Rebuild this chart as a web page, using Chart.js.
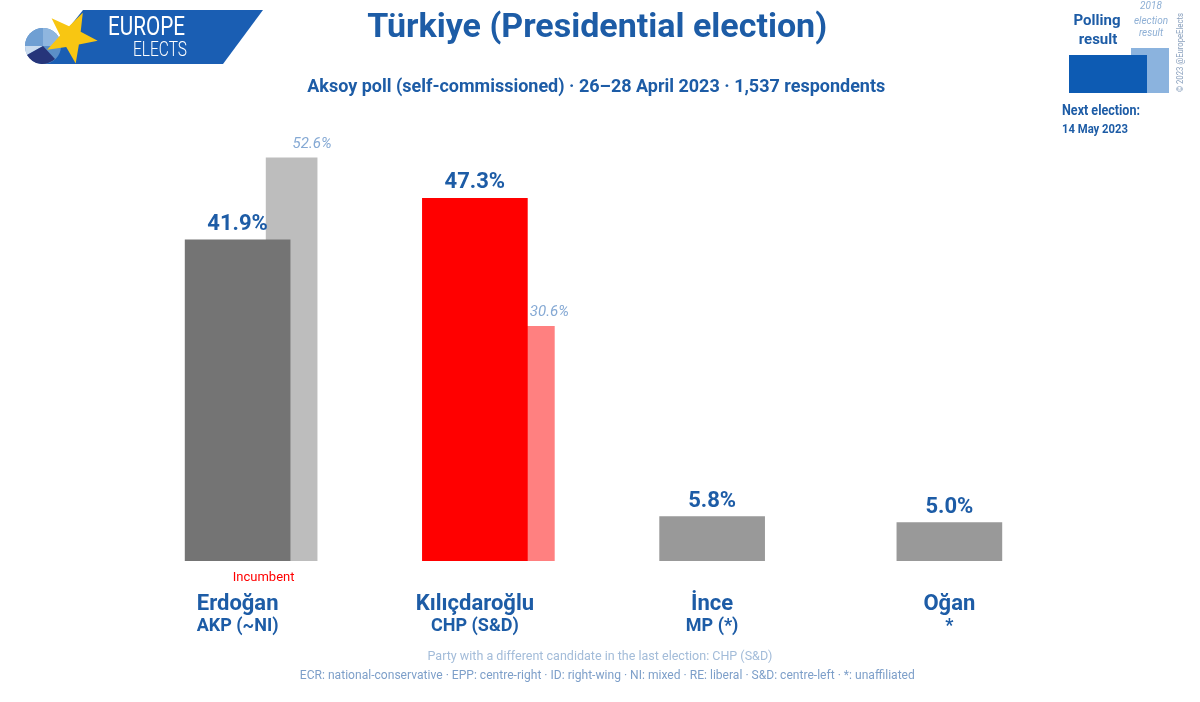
<!DOCTYPE html>
<html><head><meta charset="utf-8">
<script src="https://cdn.jsdelivr.net/npm/chart.js@4"></script>
<style>
html,body{margin:0;padding:0;background:#fff;}
body{width:1200px;height:702px;overflow:hidden;position:relative;font-family:Roboto,"Open Sans",sans-serif;}
#c{position:absolute;left:0;top:0;}
.box{position:absolute;}
</style></head>
<body>
<canvas id="c" width="1200" height="702"></canvas>
<svg id="logo" style="position:absolute;left:0;top:0" width="280" height="75">
  <polygon points="83,10 263,10 223,64 40,64" fill="#1a5eb3"/>
  <circle cx="43" cy="46" r="18" fill="#5b8fc7"/>
  <path d="M43,46 L25,46 A18,18 0 0,1 43,28 Z" fill="#6f9fd3"/>
  <path d="M43,46 L27,55 A18,18 0 0,1 25,46 Z" fill="#c9dbef"/>
  <path d="M43,46 L55,59 A18,18 0 0,1 27,55 Z" fill="#26357a"/>
  <path d="M43,46 L43,28 A18,18 0 0,1 61,46 Z" fill="#8fb6df"/>
  <polygon id="star" fill="#f8c612"/>
</svg>
<div class="box" style="left:1131px;top:48px;width:38px;height:45px;background:#8bb3de"></div>
<div class="box" style="left:1069px;top:55px;width:78px;height:38px;background:#0d5bb3"></div>
<script>
// ---------- data ----------
const candidates = ['Erdoğan', 'Kılıçdaroğlu', 'İnce', 'Oğan'];
const parties = ['AKP (~NI)', 'CHP (S&D)', 'MP (*)', '*'];
const pollValues = [41.9, 47.3, 5.8, 5.0];
const prevValues = [52.6, 30.6, null, null];
const notes = ['Incumbent', '', '', ''];
const pollColors = ['#747474', '#ff0000', '#999999', '#999999'];
const prevColors = ['#bdbdbd', '#ff8080', '#cccccc', '#cccccc'];

const BLUE = '#1d5ca6';

// ---------- star for logo ----------
(function(){
  const cx = 71, cy = 37, R = 27, r = 11, rot = -64 * Math.PI / 180;
  const pts = [];
  for (let k = 0; k < 10; k++) {
    const a = rot + k * Math.PI / 5;
    const rr = k % 2 === 0 ? R : r;
    pts.push((cx + rr * Math.cos(a)).toFixed(1) + ',' + (cy + rr * Math.sin(a)).toFixed(1));
  }
  document.getElementById('star').setAttribute('points', pts.join(' '));
})();

// ---------- html text helper ----------
function addText(txt, o) {
  const d = document.createElement('div');
  d.textContent = txt;
  const size = o.size;
  d.style.cssText = 'position:absolute;white-space:nowrap;font-family:Roboto,sans-serif;' +
    'font-size:' + size + 'px;font-weight:' + (o.weight || 400) + ';line-height:' + (1.172 * size) + 'px;' +
    'color:' + (o.color || BLUE) + ';font-style:' + (o.italic ? 'italic' : 'normal') + ';';
  document.body.appendChild(d);
  const w = d.getBoundingClientRect().width;
  const align = o.align || 'left';
  const left = align === 'center' ? o.x - w / 2 : align === 'right' ? o.x - w : o.x;
  d.style.left = left + 'px';
  d.style.top = (o.base - 0.928 * size) + 'px';
  if (o.width) {
    const sx = o.width / w;
    d.style.transformOrigin = align === 'center' ? '50% 0' : align === 'right' ? '100% 0' : '0 0';
    d.style.transform = 'scaleX(' + sx + ')';
  }
  return d;
}

addText('Türkiye (Presidential election)', {x: 597, base: 38, size: 33, weight: 700, align: 'center', width: 460});
addText('Aksoy poll (self-commissioned) · 26–28 April 2023 · 1,537 respondents', {x: 596, base: 92, size: 18, weight: 700, align: 'center', width: 578});
addText('Party with a different candidate in the last election: CHP (S&D)', {x: 600, base: 660, size: 13, color: '#a3bcd9', align: 'center', width: 345});
addText('ECR: national-conservative · EPP: centre-right · ID: right-wing · NI: mixed · RE: liberal · S&D: centre-left · *: unaffiliated', {x: 607, base: 679, size: 12, color: '#7d9fc9', align: 'center', width: 615});

addText('EUROPE', {x: 108, base: 35, size: 25, weight: 400, color: '#ffffff', width: 77});
addText('ELECTS', {x: 133, base: 57, size: 20, weight: 300, color: '#ffffff', width: 54});

addText('Polling', {x: 1097, base: 26, size: 15, weight: 700, align: 'center'});
addText('result', {x: 1098, base: 45, size: 15, weight: 700, align: 'center'});
addText('2018', {x: 1151, base: 9, size: 10, italic: true, color: '#8fb0d5', align: 'center'});
addText('election', {x: 1151, base: 24, size: 10, italic: true, color: '#8fb0d5', align: 'center'});
addText('result', {x: 1151, base: 36, size: 10, italic: true, color: '#8fb0d5', align: 'center'});
addText('Next election:', {x: 1062, base: 115, size: 14, weight: 700, width: 78});
addText('14 May 2023', {x: 1062, base: 133, size: 12, weight: 700, width: 66});

(function(){
  const d = document.createElement('div');
  d.textContent = '© 2023 @EuropeElects';
  d.style.cssText = 'position:absolute;white-space:nowrap;font-family:Roboto,sans-serif;font-size:9px;color:#8aa0bd;line-height:9px;';
  document.body.appendChild(d);
  const w = d.getBoundingClientRect().width;
  d.style.left = (1180 - w / 2) + 'px';
  d.style.top = (52 - 4.5) + 'px';
  d.style.transform = 'rotate(-90deg) scaleX(' + (79 / w) + ')';
  d.style.transformOrigin = '50% 50%';
})();

// ---------- chart ----------
const labelPlugin = {
  id: 'labels',
  afterDatasetsDraw(chart) {
    const ctx = chart.ctx;
    ctx.save();
    // poll values
    const m0 = chart.getDatasetMeta(0);
    m0.data.forEach((bar, i) => {
      if (pollValues[i] == null) return;
      ctx.font = 'bold 22px Roboto';
      ctx.fillStyle = BLUE;
      ctx.textAlign = 'center';
      ctx.textBaseline = 'alphabetic';
      ctx.fillText(pollValues[i].toFixed(1) + '%', bar.x, bar.y - 10);
    });
    // previous election values
    const m1 = chart.getDatasetMeta(1);
    m1.data.forEach((bar, i) => {
      if (prevValues[i] == null) return;
      ctx.font = 'italic 15px Roboto';
      ctx.fillStyle = '#85a9d4';
      ctx.textAlign = 'left';
      ctx.fillText(prevValues[i].toFixed(1) + '%', bar.x + 1, bar.y - 10);
    });
    // category labels
    const xs = chart.scales.x;
    candidates.forEach((name, i) => {
      const cx = xs.getPixelForValue(i);
      ctx.textAlign = 'center';
      ctx.fillStyle = BLUE;
      ctx.font = 'bold 22px Roboto';
      ctx.fillText(name, cx, 610);
      ctx.font = 'bold 18px Roboto';
      ctx.fillText(parties[i], cx, 631);
      if (notes[i]) {
        ctx.font = '13px Roboto';
        ctx.fillStyle = '#ff0000';
        ctx.fillText(notes[i], cx + 26, 581);
      }
    });
    ctx.restore();
  }
};

new Chart(document.getElementById('c'), {
  type: 'bar',
  data: {
    datasets: [
      {
        label: 'Polling result',
        data: pollValues.map((v, i) => ({x: i, y: v})),
        backgroundColor: pollColors,
        xAxisID: 'x',
        grouped: false,
        barThickness: 105,
        borderWidth: 0
      },
      {
        label: '2018 election result',
        data: prevValues.map((v, i) => ({x: i, y: v})),
        backgroundColor: prevColors,
        xAxisID: 'x2',
        grouped: false,
        barThickness: 51,
        borderWidth: 0
      }
    ]
  },
  options: {
    responsive: false,
    animation: false,
    events: [],
    layout: {padding: {left: 119, right: 132, top: 101, bottom: 141}},
    plugins: {legend: {display: false}, title: {display: false}, tooltip: {enabled: false}},
    scales: {
      x: {type: 'linear', offset: false, min: -0.5, max: 3.5, display: false},
      x2: {type: 'linear', offset: false, min: -0.7276, max: 3.2724, display: false},
      y: {type: 'linear', min: 0, max: 60, display: false}
    }
  },
  plugins: [labelPlugin]
});
</script>
</body></html>
